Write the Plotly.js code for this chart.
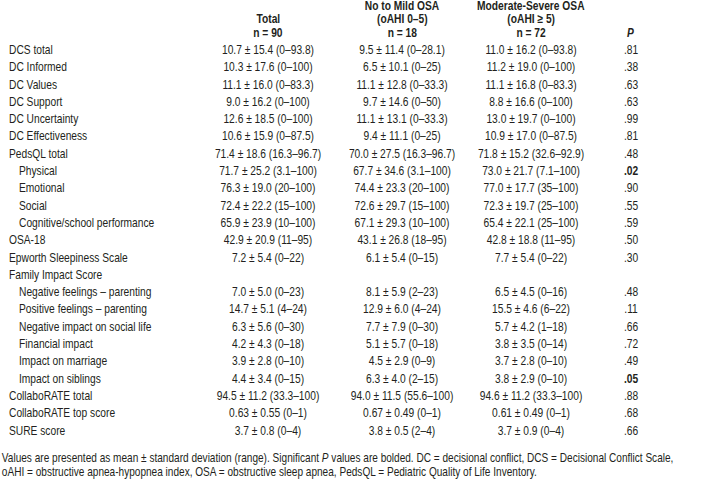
<!DOCTYPE html>
<html><head><meta charset="utf-8">
<script src="https://cdn.plot.ly/plotly-3.0.1.min.js"></script>
<style>
html,body{margin:0;padding:0;background:#fff;width:704px;height:483px;overflow:hidden}
#chart{width:859px;height:483px;transform:scaleX(0.8196);transform-origin:0 0}
</style>
</head><body><div id="chart"></div>
<script>
const rowLabels = ["DCS total","DC Informed","DC Values","DC Support","DC Uncertainty","DC Effectiveness","PedsQL total","Physical","Emotional","Social","Cognitive/school performance","OSA-18","Epworth Sleepiness Scale","Family Impact Score","Negative feelings – parenting","Positive feelings – parenting","Negative impact on social life","Financial impact","Impact on marriage","Impact on siblings","CollaboRATE total","CollaboRATE top score","SURE score"];
const indented = [0,0,0,0,0,0,0,1,1,1,1,0,0,0,1,1,1,1,1,1,0,0,0];
const totalVals = ["10.7 ± 15.4 (0–93.8)","10.3 ± 17.6 (0–100)","11.1 ± 16.0 (0–83.3)","9.0 ± 16.2 (0–100)","12.6 ± 18.5 (0–100)","10.6 ± 15.9 (0–87.5)","71.4 ± 18.6 (16.3–96.7)","71.7 ± 25.2 (3.1–100)","76.3 ± 19.0 (20–100)","72.4 ± 22.2 (15–100)","65.9 ± 23.9 (10–100)","42.9 ± 20.9 (11–95)","7.2 ± 5.4 (0–22)","","7.0 ± 5.0 (0–23)","14.7 ± 5.1 (4–24)","6.3 ± 5.6 (0–30)","4.2 ± 4.3 (0–18)","3.9 ± 2.8 (0–10)","4.4 ± 3.4 (0–15)","94.5 ± 11.2 (33.3–100)","0.63 ± 0.55 (0–1)","3.7 ± 0.8 (0–4)"];
const mildVals = ["9.5 ± 11.4 (0–28.1)","6.5 ± 10.1 (0–25)","11.1 ± 12.8 (0–33.3)","9.7 ± 14.6 (0–50)","11.1 ± 13.1 (0–33.3)","9.4 ± 11.1 (0–25)","70.0 ± 27.5 (16.3–96.7)","67.7 ± 34.6 (3.1–100)","74.4 ± 23.3 (20–100)","72.6 ± 29.7 (15–100)","67.1 ± 29.3 (10–100)","43.1 ± 26.8 (18–95)","6.1 ± 5.4 (0–15)","","8.1 ± 5.9 (2–23)","12.9 ± 6.0 (4–24)","7.7 ± 7.9 (0–30)","5.1 ± 5.7 (0–18)","4.5 ± 2.9 (0–9)","6.3 ± 4.0 (2–15)","94.0 ± 11.5 (55.6–100)","0.67 ± 0.49 (0–1)","3.8 ± 0.5 (2–4)"];
const severeVals = ["11.0 ± 16.2 (0–93.8)","11.2 ± 19.0 (0–100)","11.1 ± 16.8 (0–83.3)","8.8 ± 16.6 (0–100)","13.0 ± 19.7 (0–100)","10.9 ± 17.0 (0–87.5)","71.8 ± 15.2 (32.6–92.9)","73.0 ± 21.7 (7.1–100)","77.0 ± 17.7 (35–100)","72.3 ± 19.7 (25–100)","65.4 ± 22.1 (25–100)","42.8 ± 18.8 (11–95)","7.7 ± 5.4 (0–22)","","6.5 ± 4.5 (0–16)","15.5 ± 4.6 (6–22)","5.7 ± 4.2 (1–18)","3.8 ± 3.5 (0–14)","3.7 ± 2.8 (0–10)","3.8 ± 2.9 (0–10)","94.6 ± 11.2 (33.3–100)","0.61 ± 0.49 (0–1)","3.7 ± 0.9 (0–4)"];
const pVals = [".81",".38",".63",".63",".99",".81",".48",".02",".90",".55",".59",".50",".30","",".48",".11",".66",".72",".49",".05",".88",".68",".66"];
const colHeaders = [["Total","n = 90"],["No to Mild OSA","(oAHI 0–5)","n = 18"],["Moderate-Severe OSA","(oAHI ≥ 5)","n = 72"],["<i>P</i>"]];
const footnote = ["Values are presented as mean ± standard deviation (range). Significant <i>P</i> values are bolded. DC = decisional conflict, DCS = Decisional Conflict Scale,","oAHI = obstructive apnea-hypopnea index, OSA = obstructive sleep apnea, PedsQL = Pediatric Quality of Life Inventory."];

// Liberation Sans squeezed horizontally (the page is scaled 82% in x) to imitate Arial Narrow
const FONT = "'Liberation Sans', Arial, sans-serif";
const COLOR = "#231f20";
const SIZE = 12.5;
const colX = [268, 402, 531, 631];
const firstRowPx = 50.8, rowPx = 17.3, H = 483;
const yOf = px => (px - firstRowPx) / rowPx;
const rows = rowLabels.map((_, i) => i);

const traces = [];
traces.push({
  type: 'scatter', mode: 'text', hoverinfo: 'skip', showlegend: false,
  x: indented.map(d => d ? 19 : 9), y: rows, text: rowLabels,
  textposition: 'middle right', textfont: {family: FONT, size: SIZE, color: COLOR}, cliponaxis: false
});
[totalVals, mildVals, severeVals].forEach((vals, c) => {
  traces.push({
    type: 'scatter', mode: 'text', hoverinfo: 'skip', showlegend: false,
    x: rows.map(() => colX[c]), y: rows, text: vals,
    textposition: 'middle center', textfont: {family: FONT, size: SIZE, color: COLOR}, cliponaxis: false
  });
});
traces.push({
  type: 'scatter', mode: 'text', hoverinfo: 'skip', showlegend: false,
  x: rows.map(() => colX[3]), y: rows,
  text: pVals.map(p => (p !== "" && parseFloat(p) <= 0.05) ? "<b>" + p + "</b>" : p),
  textposition: 'middle center', textfont: {family: FONT, size: SIZE, color: COLOR}, cliponaxis: false
});

const annotations = [];
const headerLinePx = [5.8, 19, 32.5];
colHeaders.forEach((lines, c) => {
  lines.forEach((t, k) => {
    const lineIdx = 3 - lines.length + k;
    annotations.push({x: colX[c], y: yOf(headerLinePx[lineIdx]), xref: 'x', yref: 'y', text: '<b>' + t + '</b>',
      showarrow: false, xanchor: 'center', yanchor: 'middle', font: {family: FONT, size: SIZE, color: COLOR}});
  });
});
const footPx = [457.5, 472];
footnote.forEach((t, k) => {
  annotations.push({x: 0, y: yOf(footPx[k]), xref: 'x', yref: 'y', text: t, showarrow: false,
    xanchor: 'left', yanchor: 'middle', font: {family: FONT, size: 12.3, color: COLOR}});
});

const layout = {
  width: 859, height: H, margin: {l: 0, r: 0, t: 0, b: 0},
  paper_bgcolor: '#fff', plot_bgcolor: '#fff',
  xaxis: {range: [0, 704], visible: false, fixedrange: true},
  yaxis: {range: [yOf(H), yOf(0)], visible: false, fixedrange: true},
  annotations: annotations
};
Plotly.newPlot('chart', traces, layout, {displayModeBar: false, staticPlot: true});
</script></body></html>
